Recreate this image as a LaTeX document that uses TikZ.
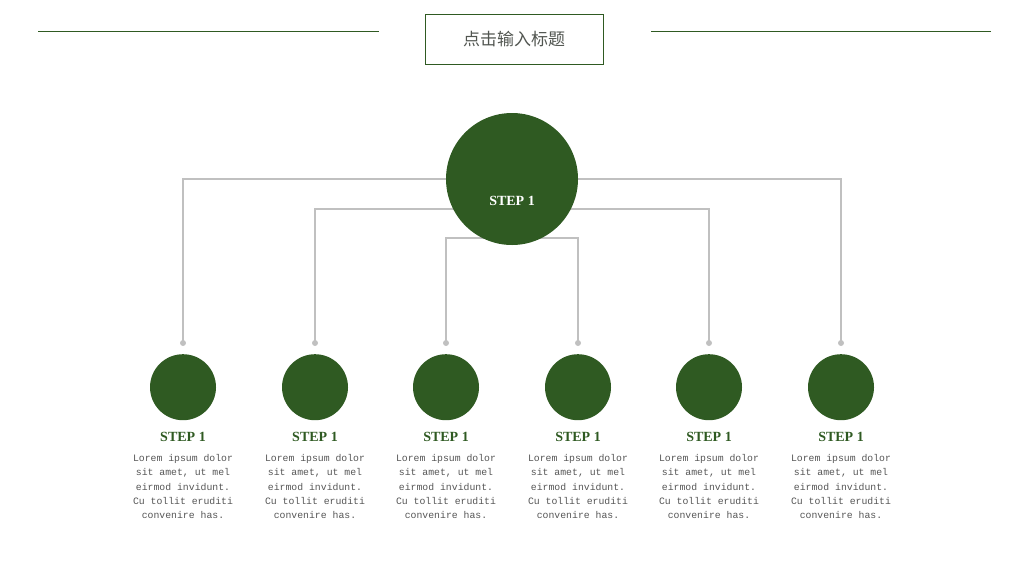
\documentclass[tikz,border=0pt]{standalone}
\usepackage{fontspec}
\setmainfont{Liberation Serif}
\setmonofont{Liberation Mono}
\newfontfamily\cjkfont{Noto Sans CJK SC}
\usetikzlibrary{positioning,calc}
\definecolor{stepgreen}{RGB}{47,90,34}
\definecolor{wiregray}{RGB}{192,192,192}
\definecolor{textgray}{RGB}{85,85,85}
\tikzset{
    bigstep/.style={circle, fill=stepgreen, minimum size=132pt, inner sep=0pt},
    smallstep/.style={circle, fill=stepgreen, minimum size=66pt, inner sep=0pt},
    wire/.style={draw=wiregray, line width=1.3pt},
    steptitle/.style={font=\fontsize{14}{16}\selectfont\bfseries, text=stepgreen},
    steptext/.style={font=\ttfamily\fontsize{9.8}{14.4}\selectfont, text=textgray, align=center, inner sep=0pt}
}

\begin{document}
\begin{tikzpicture}[x=1pt, y=-1pt]
    \useasboundingbox (0,0) rectangle (1024,576);

    % Header
    \node[draw=stepgreen, line width=0.8pt, minimum width=178pt, minimum height=50pt] (title) at (514,39)
        {\cjkfont\fontsize{17}{20}\selectfont\color{textgray!90!stepgreen}点击输入标题};
    \coordinate (ruleL) at (38,31);
    \coordinate (ruleR) at (991,31);
    \draw[stepgreen, line width=0.8pt] (ruleL) -- ++(341,0);
    \draw[stepgreen, line width=0.8pt] (ruleR) -- ++(-340,0);

    % Hub points and dots
    \coordinate (hub1) at (512,179);
    \coordinate (hub2) at (512,209);
    \coordinate (hub3) at (512,238);
    \foreach \i/\x in {1/183,2/315,3/446,4/578,5/709,6/841}
        \coordinate (dot\i) at (\x,343);

    % Connections
    \draw[wire] (dot1) |- (hub1) -| (dot6);
    \draw[wire] (dot2) |- (hub2) -| (dot5);
    \draw[wire] (dot3) |- (hub3) -| (dot4);
    \foreach \i in {1,...,6}
        \fill[wiregray] (dot\i) circle (3pt);

    % Main step
    \node[bigstep] (main) at (hub1) {};
    \node[font=\fontsize{14}{16}\selectfont\bfseries, text=white] (mainlabel) at (512,201) {STEP 1};

    % Sub steps
    \foreach \i in {1,...,6} {
        \node[smallstep, below=11pt of dot\i] (step\i) {};
        \node[steptitle] (title\i) at ($(dot\i)+(0,94)$) {STEP 1};
        \node[steptext, anchor=north] (text\i) at ($(dot\i)+(0,111)$)
            {Lorem ipsum dolor\\sit amet, ut mel\\eirmod invidunt.\\Cu tollit eruditi\\convenire has.};
    }
\end{tikzpicture}
\end{document}
